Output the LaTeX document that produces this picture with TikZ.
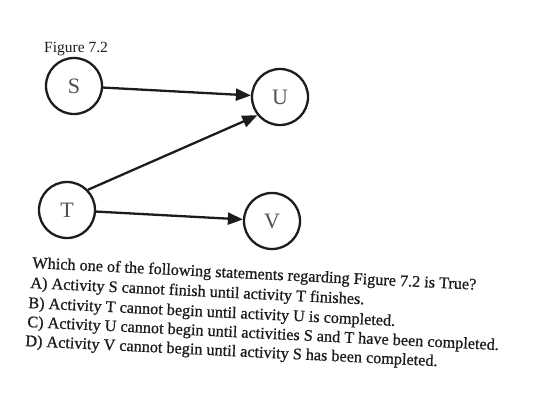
\documentclass[tikz,border=0pt]{standalone}
\usepackage{fontspec}
\setmainfont{Liberation Serif}
\usetikzlibrary{arrows.meta}
\definecolor{ink}{HTML}{1C1C1C}
\definecolor{letter}{HTML}{505050}
\begin{document}
\begin{tikzpicture}[x=1pt,y=-1pt,
  act/.style={circle,draw=ink,line width=2.3pt,minimum size=56pt,inner sep=0pt,
    font=\fontsize{22}{22}\selectfont,text=letter},
  link/.style={draw=ink,line width=2.3pt,-{Triangle[length=15pt,width=12pt]}},
  qline/.style={anchor=base west,inner sep=0pt,rotate=-2.8,text=ink,
    font=\fontsize{16.2}{17}\selectfont\addfontfeature{FakeBold=0.8}}]
\useasboundingbox (0,0) rectangle (559,408);
\node[anchor=base west,inner sep=0pt,text=ink,font=\fontsize{15.5}{16}\selectfont] (fig) at (44,52) {Figure 7.2};
\node[act] (S) at (74,86) {S};
\node[act] (U) at (280,97) {U};
\node[act] (T) at (67,210) {T};
\node[act] (V) at (272,221) {V};
\draw[link] (S) -- (U);
\draw[link] (T.44) -- (U.219);
\draw[link] (T) -- (V);
\node[qline] (q0) at (32,268) {Which one of the following statements regarding Figure 7.2 is True?};
\node[qline] (qa) at (30,288) {A) Activity S cannot finish until activity T finishes.};
\node[qline] (qb) at (28,308) {B) Activity T cannot begin until activity U is completed.};
\node[qline] (qc) at (27,327) {C) Activity U cannot begin until activities S and T have been completed.};
\node[qline] (qd) at (25,346) {D) Activity V cannot begin until activity S has been completed.};
\end{tikzpicture}
\end{document}
